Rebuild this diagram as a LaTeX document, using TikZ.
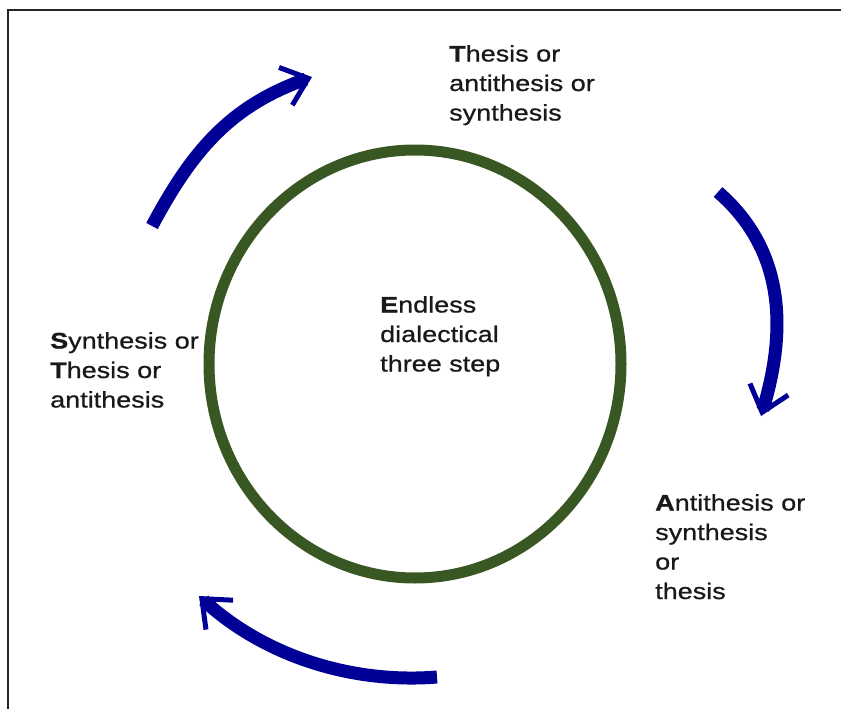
\documentclass[tikz,border=0pt]{standalone}
\usepackage{fontspec}
\newfontfamily\lblfont{Liberation Sans}[FakeStretch=1.2, UprightFeatures={FakeBold=0.8}, BoldFeatures={FakeBold=1}]
\usetikzlibrary{arrows.meta}
\definecolor{ringgreen}{RGB}{56,87,35}
\definecolor{arrowblue}{RGB}{0,0,150}

\begin{document}
\begin{tikzpicture}[x=1pt,y=-1pt]

	\tikzstyle step text=[anchor=north west, inner sep=0pt, align=left, text=black!90,
		font=\lblfont\fontsize{22.5}{29.5}\selectfont];
	\tikzstyle ring line=[draw=ringgreen, line width=11pt];
	\tikzstyle turn arrow=[draw=arrowblue, line width=13pt,
		-{Straight Barb[length=24pt, width=40pt, line width=5pt]}];

	\useasboundingbox (0,0) rectangle (841,709);
	\draw[line width=2pt, black!85] (841,10.5) -- (7.5,10.5) -- (7.5,709);

	\draw[ring line] (415,364) ellipse[x radius=206, y radius=214];

	\node[step text] (dialectic) at (380,296) {{\bfseries E}ndless\\dialectical\\three step};
	\node[step text] (thesis) at (449,45) {{\bfseries T}hesis or\\antithesis or\\synthesis};
	\node[step text] (antithesis) at (655,494) {{\bfseries A}ntithesis or\\synthesis\\or\\thesis};
	\node[step text] (synthesis) at (50,332) {{\bfseries S}ynthesis or\\{\bfseries T}hesis or\\antithesis};

	\coordinate (leftTail) at (152,226);
	\coordinate (leftHead) at (312,77);
	\coordinate (rightTail) at (718,192);
	\coordinate (rightHead) at (761,416);
	\coordinate (bottomTail) at (437,677);
	\coordinate (bottomHead) at (199,596);

	\draw[turn arrow] (leftTail) .. controls (192,151) and (230,106) .. (leftHead);
	\draw[turn arrow] (rightTail) .. controls (785,250) and (787,330) .. (rightHead);
	\draw[turn arrow] (bottomTail) .. controls (350,684) and (263,655) .. (bottomHead);

\end{tikzpicture}
\end{document}
